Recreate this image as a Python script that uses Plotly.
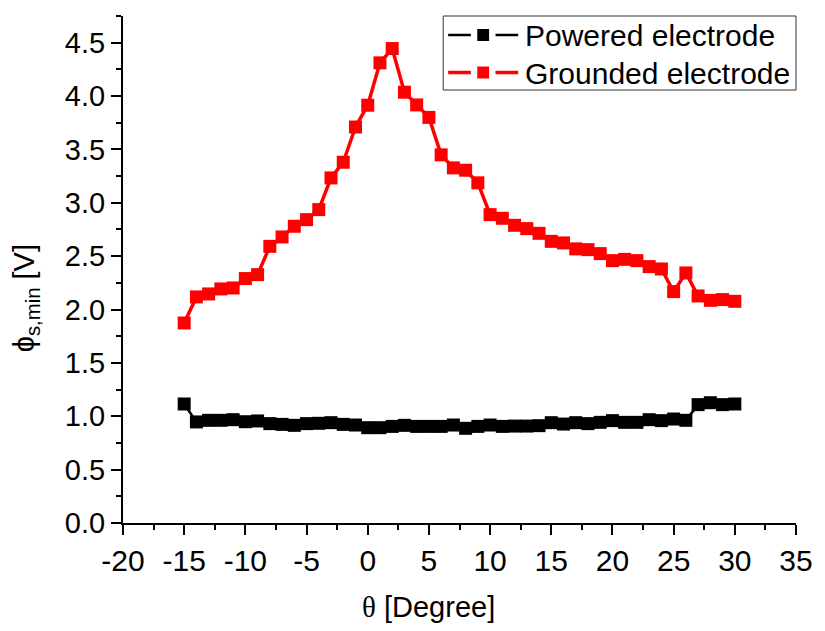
import plotly.graph_objects as go

# Tilt angle of the electrode, degrees
theta = list(range(-15, 31))

# Minimum sheath potential at the powered electrode [V]
powered = [1.115, 0.947, 0.962, 0.962, 0.968, 0.949, 0.956, 0.931, 0.924, 0.915,
           0.931, 0.934, 0.940, 0.924, 0.918, 0.893, 0.893, 0.905, 0.915, 0.905,
           0.905, 0.905, 0.918, 0.887, 0.905, 0.918, 0.905, 0.908, 0.908, 0.912,
           0.940, 0.927, 0.940, 0.931, 0.943, 0.959, 0.943, 0.943, 0.968, 0.959,
           0.974, 0.962, 1.109, 1.127, 1.109, 1.115]

# Minimum sheath potential at the grounded electrode [V]
grounded = [1.874, 2.118, 2.146, 2.193, 2.202, 2.290, 2.327, 2.592, 2.680, 2.780,
            2.842, 2.936, 3.233, 3.380, 3.710, 3.914, 4.311, 4.445, 4.036, 3.917,
            3.800, 3.449, 3.327, 3.305, 3.187, 2.889, 2.855, 2.789, 2.758, 2.714,
            2.639, 2.624, 2.568, 2.561, 2.524, 2.458, 2.470, 2.458, 2.402, 2.380,
            2.168, 2.343, 2.127, 2.086, 2.093, 2.077]

series_names = ["Powered electrode", "Grounded electrode"]
series_colors = ["black", "#ff0000"]
series_widths = [2.5, 3.5]

x_ticks = list(range(-20, 36, 5))
x_ticktext = [str(v) for v in x_ticks]          # plain hyphen for negatives
y_ticks = [round(0.5 * i, 1) for i in range(10)]
y_ticktext = [f"{v:.1f}" for v in y_ticks]

FONT = "Liberation Sans, Arial, sans-serif"
SERIF = "Liberation Serif, Times New Roman, serif"

W, H = 825, 631
ML, MR, MT, MB = 123, 20, 16, 108
PW, PH = W - ML - MR, H - MT - MB


def px(xp):
    """Horizontal pixel position -> paper fraction."""
    return (xp - ML) / PW


def py(yp):
    """Vertical pixel position (from top) -> paper fraction."""
    return (H - MB - yp) / PH


fig = go.Figure()
for vals, name, col, lw in zip([powered, grounded], series_names,
                               series_colors, series_widths):
    fig.add_trace(go.Scatter(
        x=theta, y=vals, mode="lines+markers", name=name, showlegend=False,
        line=dict(color=col, width=lw),
        marker=dict(symbol="square", size=13, color=col, line=dict(width=0)),
    ))

axis_common = dict(showgrid=False, zeroline=False, showline=True,
                   linecolor="black", linewidth=2, tickcolor="black",
                   tickwidth=2, ticklen=10)

# Legend box with line-marker-line samples (Origin style)
shapes = [dict(type="rect", xref="paper", yref="paper",
               x0=px(447.5), x1=1.0, y0=py(90), y1=1.0,
               line=dict(color="#333333", width=1), fillcolor="white",
               layer="above")]
annotations = []
row_y = [35, 72.5]
for ry, name, col, lw in zip(row_y, series_names, series_colors, series_widths):
    for xa, xb in [(452.5, 475.5), (500.5, 523.5)]:
        shapes.append(dict(type="line", xref="paper", yref="paper",
                           x0=px(xa), x1=px(xb), y0=py(ry), y1=py(ry),
                           line=dict(color=col, width=lw), layer="above"))
    shapes.append(dict(type="rect", xref="paper", yref="paper",
                       x0=px(482), x1=px(494), y0=py(ry + 6), y1=py(ry - 6),
                       line=dict(width=0), fillcolor=col, layer="above"))
    annotations.append(dict(text=name, xref="paper", yref="paper",
                            x=px(529.5), y=py(ry + 1), xanchor="left",
                            yanchor="middle", showarrow=False, borderpad=0,
                            font=dict(size=30, family=FONT, color="black")))

# Axis titles
annotations.append(dict(
    text=f'<span style="font-family:{SERIF}">\u03b8</span> [Degree]',
    xref="paper", yref="paper", x=px(433), y=py(607),
    xanchor="center", yanchor="middle", showarrow=False,
    font=dict(size=29, family=FONT, color="black")))
annotations.append(dict(
    text="\u03d5<sub>s,min</sub> [V]",
    xref="paper", yref="paper", x=px(25), y=py(298),
    xanchor="center", yanchor="middle", showarrow=False, textangle=-90,
    font=dict(size=29, family=FONT, color="black")))

fig.update_layout(
    width=W, height=H,
    margin=dict(l=ML, r=MR, t=MT, b=MB),
    paper_bgcolor="white", plot_bgcolor="white",
    font=dict(family=FONT, size=30, color="black"),
    showlegend=False,
    xaxis=dict(range=[-20, 35], tickvals=x_ticks, ticktext=x_ticktext,
               ticks="outside", tickfont=dict(size=30),
               minor=dict(dtick=2.5, ticks="outside", ticklen=5, tickwidth=2,
                          tickcolor="black"),
               **axis_common),
    xaxis2=dict(range=[-20, 35], overlaying="x", side="top", tickvals=x_ticks,
                ticks="outside", showticklabels=False,
                minor=dict(dtick=2.5, ticks="outside", ticklen=5, tickwidth=2,
                           tickcolor="black"),
                **axis_common),
    yaxis=dict(range=[0, 4.75], tickvals=y_ticks, ticktext=y_ticktext,
               ticks="outside", tickfont=dict(size=29),
               minor=dict(dtick=0.25, ticks="outside", ticklen=5, tickwidth=2,
                          tickcolor="black"),
               **axis_common),
    yaxis2=dict(range=[0, 4.75], overlaying="y", side="right", tickvals=y_ticks,
                ticks="inside", showticklabels=False,
                minor=dict(dtick=0.25, ticks="inside", ticklen=10, tickwidth=2,
                           tickcolor="black"),
                **axis_common),
    shapes=shapes,
    annotations=annotations,
)

fig.write_html("out.html")
